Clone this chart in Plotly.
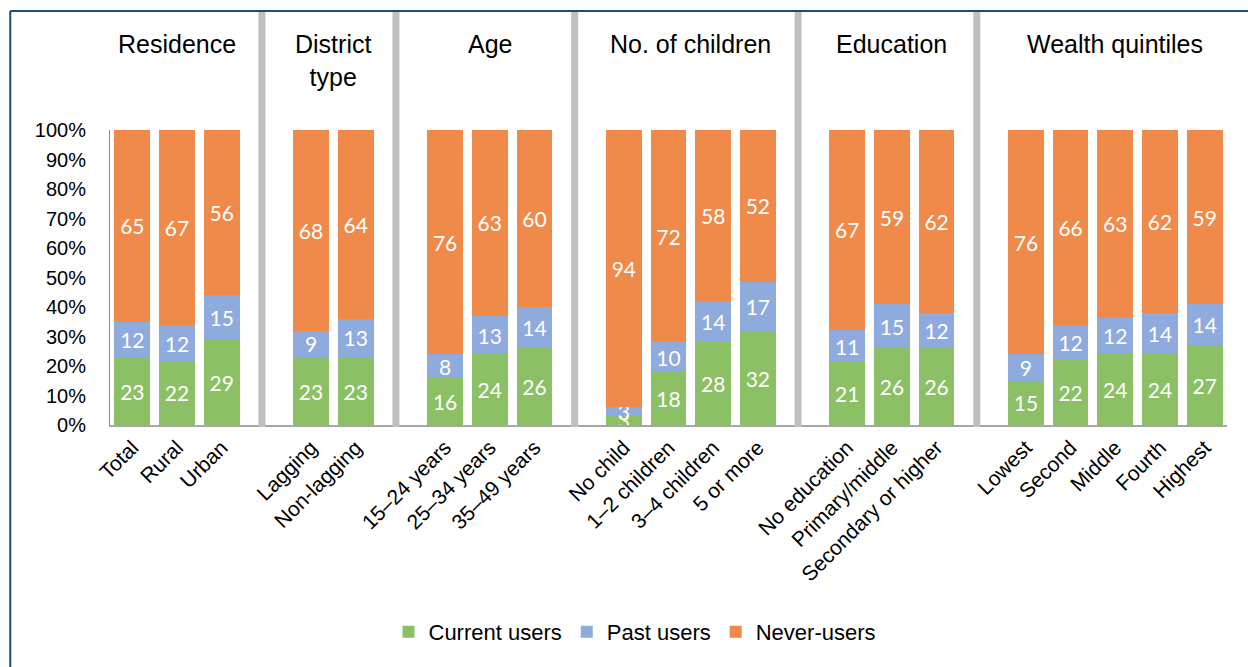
import plotly.graph_objects as go

# Category groups and their bars
groups = ["Residence", "District<br>type", "Age", "No. of children", "Education", "Wealth quintiles"]
group_categories = [
    ["Total", "Rural", "Urban"],
    ["Lagging", "Non-lagging"],
    ["15–24 years", "25–34 years", "35–49 years"],
    ["No child", "1–2 children", "3–4 children", "5 or more"],
    ["No education", "Primary/middle", "Secondary or higher"],
    ["Lowest", "Second", "Middle", "Fourth", "Highest"],
]

# Percentage of women by status (per category, in group order)
current_users = [23, 22, 29, 23, 23, 16, 24, 26, 3, 18, 28, 32, 21, 26, 26, 15, 22, 24, 24, 27]
past_users = [12, 12, 15, 9, 13, 8, 13, 14, 3, 10, 14, 17, 11, 15, 12, 9, 12, 12, 14, 14]
never_users = [65, 67, 56, 68, 64, 76, 63, 60, 94, 72, 58, 52, 67, 59, 62, 76, 66, 63, 62, 59]

series_names = ["Current users", "Past users", "Never-users"]
series_colors = ["#8BC064", "#8FAADC", "#F08A4B"]

# Numeric x positions with an empty slot between groups
categories, xpos, group_centers, gap_slots = [], [], [], []
pos = 0
for gi, cats in enumerate(group_categories):
    start = pos
    for c in cats:
        categories.append(c)
        xpos.append(pos)
        pos += 1
    group_centers.append((start + pos - 1) / 2)
    if gi < len(group_categories) - 1:
        gap_slots.append(pos)
        pos += 1

fig = go.Figure()
for name, vals, col in zip(series_names, [current_users, past_users, never_users], series_colors):
    fig.add_trace(go.Bar(
        x=xpos, y=vals, name=name,
        marker=dict(color=col, line=dict(width=0)),
        text=[str(v) for v in vals],
        textposition="inside", insidetextanchor="middle", textangle=0,
        textfont=dict(color="white", size=21, family="Lato"),
        width=0.8,
        hoverinfo="skip",
    ))

shapes = []
# Grey separators between groups
for g in gap_slots:
    shapes.append(dict(type="line", xref="x", yref="paper",
                       x0=g - 0.1, x1=g - 0.1, y0=-0.007, y1=1.4,
                       line=dict(color="#BFBFBF", width=7), layer="above"))
# Outer frame (left and top edges)
shapes.append(dict(type="line", xref="paper", yref="paper",
                   x0=-0.0893, x1=-0.0893, y0=-0.82, y1=1.403,
                   line=dict(color="#1B4F72", width=2)))
shapes.append(dict(type="line", xref="paper", yref="paper",
                   x0=-0.0893, x1=1.03, y0=1.403, y1=1.403,
                   line=dict(color="#1B4F72", width=2)))

annotations = []
for name, cx in zip(groups, group_centers):
    annotations.append(dict(x=cx, y=1.345, xref="x", yref="paper", text=name,
                            showarrow=False, yanchor="top", align="center",
                            font=dict(size=25, color="black", family="Liberation Sans")))

fig.update_layout(
    width=1248, height=667,
    margin=dict(l=110, r=21, t=130, b=242),
    paper_bgcolor="white", plot_bgcolor="white",
    barmode="stack", barnorm="percent",
    font=dict(family="Liberation Sans", color="black"),
    uniformtext=dict(minsize=21, mode="show"),
    showlegend=True,
    legend=dict(orientation="h", x=0.47, xanchor="center", y=-0.63, yanchor="top",
                font=dict(size=22, color="black"), itemwidth=30, traceorder="normal"),
    shapes=shapes, annotations=annotations,
)
fig.update_xaxes(
    range=[-0.5, pos - 0.5], tickmode="array", tickvals=xpos, ticktext=categories,
    tickangle=-45, tickfont=dict(size=21, color="black"),
    showline=True, linecolor="#A6A6A6", linewidth=2, showgrid=False, ticks="", zeroline=False,
)
fig.update_yaxes(
    range=[0, 100], tickmode="array", tickvals=list(range(0, 101, 10)),
    ticktext=[f"{v}%" for v in range(0, 101, 10)],
    tickfont=dict(size=20, color="black"), ticklabelstandoff=19,
    showline=True, linecolor="#8C8C8C", linewidth=1, showgrid=False, ticks="", zeroline=False,
)

fig.write_html("out.html")
